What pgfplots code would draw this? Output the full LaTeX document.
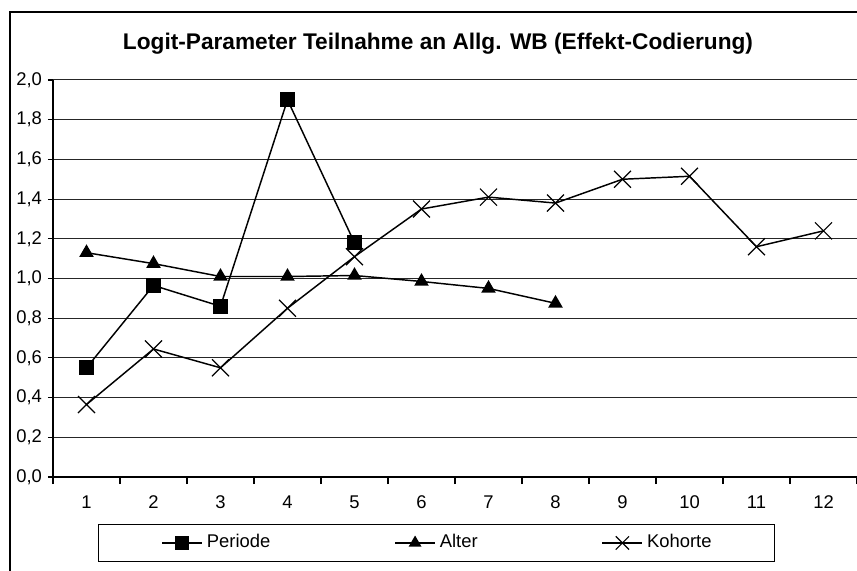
\documentclass[border=0pt]{standalone}
\usepackage{fontspec}
\setmainfont{Liberation Sans}
\usepackage{pgfplots}
\pgfplotsset{compat=1.18}
\begin{document}
\begin{tikzpicture}
\useasboundingbox (0,0) rectangle (642.75pt,428.25pt);
\clip (0,0) rectangle (642.75pt,428.25pt);
\draw[line width=0.8pt] (7.5pt,-10pt) rectangle (660pt,419.25pt);
\node[anchor=base, font=\bfseries\fontsize{17pt}{20pt}\selectfont] at (328.5pt,390.75pt) {Logit-Parameter Teilnahme an Allg. WB (Effekt-Codierung)};
\begin{axis}[
  at={(39.75pt,70.5pt)}, anchor=south west,
  scale only axis, width=603pt, height=297.75pt,
  xmin=0.5, xmax=12.5, ymin=0, ymax=2,
  axis x line*=bottom, axis y line*=left,
  x axis line style={line width=1.4pt},
  y axis line style={line width=1.1pt},
  xtick={1,...,12},
  minor xtick={0.5,1.5,...,12.5},
  ytick={0,0.2,...,2.0},
  tick align=outside,
  major tick length=3.75pt, minor tick length=5.25pt,
  major x tick style={draw=none},
  minor x tick style={black, line width=0.8pt},
  major y tick style={black, line width=0.8pt},
  ymajorgrids, major grid style={black!85, line width=0.75pt},
  /pgf/number format/assume math mode=true,
  ticklabel style={font=\fontsize{13.8pt}{16pt}\selectfont},
  xticklabel style={yshift=-7pt},
  yticklabel style={xshift=-1pt, /pgf/number format/.cd, use comma, fixed, fixed zerofill, precision=1},
  legend style={at={(0.477,-0.1662)}, anchor=center, draw=black, line width=0.6pt, fill=white,
    inner xsep=47pt, inner ysep=7.5pt,
    font=\fontsize{13.8pt}{16pt}\selectfont,
    nodes={inner sep=0pt, text height=10pt, text depth=3pt},
    legend columns=3,
    /tikz/every odd column/.append style={column sep=3pt},
    /tikz/every even column/.append style={column sep=93pt}},
  legend cell align=left,
  legend image code/.code={\draw[mark repeat=2,mark phase=2,#1] plot coordinates {(0pt,0pt) (15pt,0pt) (30pt,0pt)};},
]
\addplot[black, line width=1.1pt, mark=square*, mark size=5pt, mark options={solid}, forget plot]
  coordinates {(1,0.55)(2,0.965)(3,0.86)(4,1.90)(5,1.18)};
\addplot[black, line width=1.1pt, mark=triangle*, mark size=5.2pt, mark options={solid}, forget plot]
  coordinates {(1,1.13)(2,1.075)(3,1.01)(4,1.01)(5,1.015)(6,0.985)(7,0.95)(8,0.875)};
\addplot[black, line width=1.1pt, mark=x, mark size=9pt, mark options={solid, line width=0.9pt}, forget plot]
  coordinates {(1,0.365)(2,0.645)(3,0.55)(4,0.85)(5,1.11)(6,1.35)(7,1.41)(8,1.38)(9,1.50)(10,1.515)(11,1.16)(12,1.24)};
\addlegendimage{black, line width=1.1pt, mark=square*, mark size=4.5pt}
\addlegendentry{Periode}
\addlegendimage{black, line width=1.1pt, mark=triangle*, mark size=4.5pt}
\addlegendentry{Alter}
\addlegendimage{black, line width=1.1pt, mark=x, mark size=7pt, mark options={line width=0.9pt}}
\addlegendentry{Kohorte}
\end{axis}
\end{tikzpicture}
\end{document}
